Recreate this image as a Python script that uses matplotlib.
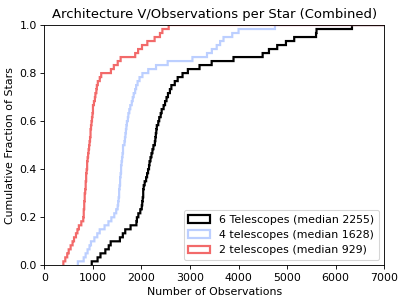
import numpy as np
import matplotlib
matplotlib.use('Agg')
import matplotlib.pyplot as plt

# observations per star
obs_6tel = [976, 1100, 1160, 1260, 1330, 1370, 1560, 1620, 1670, 1780,
            1900, 1910, 1940, 1985, 2010, 2020, 2030, 2040, 2045, 2055,
            2075, 2100, 2125, 2145, 2160, 2172, 2190, 2212, 2235, 2255,
            2278, 2290, 2300, 2310, 2325, 2350, 2375, 2400, 2425, 2460,
            2490, 2520, 2555, 2590, 2623, 2690, 2755, 2850, 2960, 3200,
            3450, 3900, 4500, 4630, 4800, 4980, 5150, 5600, 5610, 6340]
obs_4tel = [690, 810, 850, 890, 930, 965, 1030, 1090, 1140, 1240,
            1320, 1380, 1440, 1480, 1510, 1520, 1530, 1540, 1548, 1556,
            1563, 1569, 1575, 1581, 1587, 1593, 1603, 1612, 1620, 1628,
            1658, 1666, 1674, 1680, 1690, 1705, 1720, 1737, 1755, 1778,
            1800, 1820, 1840, 1870, 1895, 1925, 1960, 2020, 2140, 2300,
            2540, 3050, 3350, 3450, 3550, 3620, 3690, 3870, 4000, 4750]
obs_2tel = [391, 440, 475, 510, 545, 585, 620, 655, 685, 720,
            770, 810, 815, 820, 826, 830, 835, 840, 846, 851,
            855, 861, 867, 873, 882, 890, 898, 906, 915, 929,
            940, 946, 953, 960, 966, 973, 982, 991, 1001, 1010,
            1027, 1044, 1058, 1072, 1086, 1110, 1145, 1176, 1380, 1440,
            1520, 1580, 1880, 1940, 2020, 2130, 2275, 2390, 2440, 2570]

labels = ['6 Telescopes (median 2255)',
          '4 telescopes (median 1628)',
          '2 telescopes (median 929)']
colors = ['black', '#bccfff', '#f26a6a']

DPI = 79
fig, ax = plt.subplots(figsize=(407 / DPI, 305 / DPI), dpi=DPI)
fig.subplots_adjust(left=0.109, right=0.944, bottom=0.130, top=0.918)

for data, lab, col in zip([obs_6tel, obs_4tel, obs_2tel], labels, colors):
    # bins start at the smallest value so nothing is drawn along y=0
    bins = np.arange(min(data), 10010, 10)
    ax.hist(data, bins=bins, cumulative=True, density=True,
            histtype='step', color=col, linewidth=2, label=lab)

ax.set_xlim(0, 7000)
ax.set_ylim(0, 1.0)
ax.set_xlabel('Number of Observations')
ax.set_ylabel('Cumulative Fraction of Stars')
ax.set_title('Architecture V/Observations per Star (Combined)')
ax.legend(loc='lower right')

plt.savefig('out.png', dpi=DPI)
